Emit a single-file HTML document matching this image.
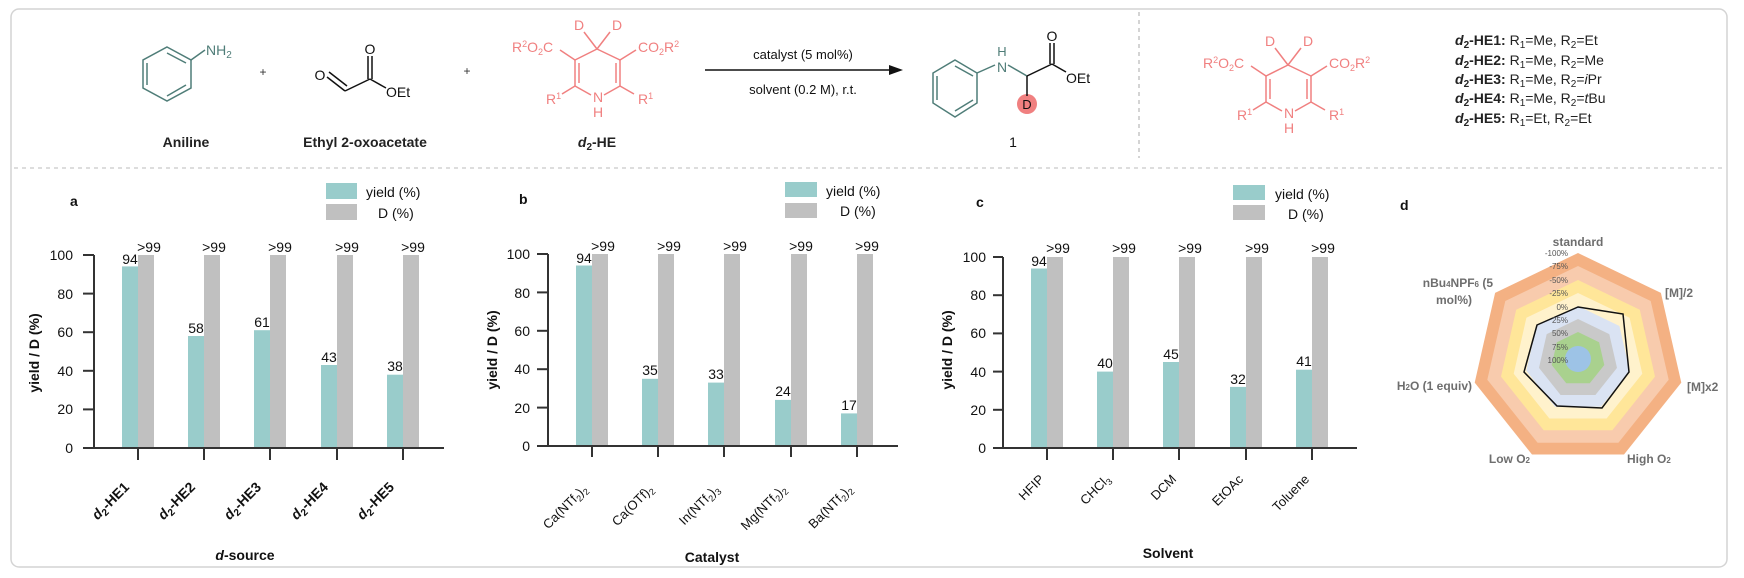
<!DOCTYPE html>
<html><head><meta charset="utf-8"><style>
html,body{margin:0;padding:0;background:#fff;}
svg{display:block;font-family:"Liberation Sans",Arial,sans-serif;}
</style></head><body>
<svg width="1744" height="578" viewBox="0 0 1744 578" xmlns="http://www.w3.org/2000/svg">
<rect x="11" y="9" width="1716" height="558" rx="8" fill="#fff" stroke="#d4d4d4" stroke-width="1.5"/>
<line x1="1139" y1="12" x2="1139" y2="158" stroke="#aaa" stroke-dasharray="4,4"/>
<line x1="14" y1="168" x2="1724" y2="168" stroke="#bbb" stroke-dasharray="4,4"/>

<!-- Aniline -->
<g stroke="#4f7d78" stroke-width="1.5" fill="none">
<polygon points="167,47 191,60 191,88 167,101 143,88 143,60"/>
<line x1="147" y1="63" x2="147" y2="85"/><line x1="167" y1="53" x2="186" y2="63"/><line x1="167" y1="96" x2="186" y2="85"/>
<line x1="191" y1="60" x2="205" y2="50"/>
</g>
<text x="206" y="55" font-size="14" fill="#4f7d78">NH<tspan font-size="10" dy="3">2</tspan></text>
<text x="263" y="76" font-size="12" fill="#333" text-anchor="middle">+</text>
<text x="186" y="147" font-size="14" font-weight="bold" text-anchor="middle" fill="#222">Aniline</text>
<!-- Ethyl oxoacetate -->
<g stroke="#111" stroke-width="1.5" fill="none">
<line x1="327" y1="77" x2="345" y2="91"/><line x1="329" y1="72" x2="347" y2="86"/>
<line x1="345" y1="91" x2="370" y2="79"/>
<line x1="368" y1="79" x2="368" y2="56"/><line x1="372" y1="79" x2="372" y2="56"/>
<line x1="370" y1="79" x2="386" y2="88"/>
</g>
<text x="320" y="80" font-size="14" text-anchor="middle" fill="#111">O</text>
<text x="370" y="54" font-size="14" text-anchor="middle" fill="#111">O</text>
<text x="386" y="97" font-size="14" fill="#111">OEt</text>
<text x="365" y="147" font-size="14" font-weight="bold" text-anchor="middle" fill="#222">Ethyl 2-oxoacetate</text>
<text x="467" y="75" font-size="12" fill="#333" text-anchor="middle">+</text>
<!-- HE -->
<g id="he">
<g stroke="#f08080" stroke-width="1.5" fill="none">
<line x1="597" y1="49" x2="575" y2="60"/><line x1="597" y1="49" x2="620" y2="60"/>
<line x1="575" y1="60" x2="575" y2="86"/><line x1="579" y1="63" x2="579" y2="83"/>
<line x1="620" y1="60" x2="620" y2="86"/><line x1="616" y1="63" x2="616" y2="83"/>
<line x1="575" y1="86" x2="591" y2="95"/><line x1="620" y1="86" x2="604" y2="95"/>
<line x1="575" y1="86" x2="562" y2="94"/><line x1="620" y1="86" x2="634" y2="94"/>
<line x1="575" y1="60" x2="560" y2="50"/><line x1="620" y1="60" x2="636" y2="50"/>
<line x1="597" y1="49" x2="584" y2="32"/><line x1="597" y1="49" x2="610" y2="32"/>
</g>
<g fill="#f08080" font-size="14">
<text x="579" y="30" text-anchor="middle">D</text><text x="617" y="30" text-anchor="middle">D</text>
<text x="512" y="52">R<tspan font-size="9" dy="-5">2</tspan><tspan dy="5">O</tspan><tspan font-size="9" dy="3">2</tspan><tspan dy="-3">C</tspan></text>
<text x="638" y="52">CO<tspan font-size="9" dy="3">2</tspan><tspan dy="-3">R</tspan><tspan font-size="9" dy="-5">2</tspan></text>
<text x="546" y="104">R<tspan font-size="9" dy="-5">1</tspan></text>
<text x="638" y="104">R<tspan font-size="9" dy="-5">1</tspan></text>
<text x="598" y="102" text-anchor="middle">N</text><text x="598" y="117" text-anchor="middle">H</text>
</g>
</g>
<text x="597" y="147" font-size="14" font-weight="bold" text-anchor="middle" fill="#222"><tspan font-style="italic">d</tspan><tspan font-size="10" dy="3">2</tspan><tspan dy="-3">-HE</tspan></text>
<!-- arrow -->
<line x1="705" y1="70" x2="893" y2="70" stroke="#111" stroke-width="1.6"/>
<polygon points="903,70 889,65 889,75" fill="#111"/>
<text x="803" y="59" font-size="13" text-anchor="middle" fill="#111">catalyst (5 mol%)</text>
<text x="803" y="94" font-size="13" text-anchor="middle" fill="#111">solvent (0.2 M), r.t.</text>
<!-- product -->
<g stroke="#4f7d78" stroke-width="1.5" fill="none">
<polygon points="955,60 977,73 977,103 955,117 933,103 933,73"/>
<line x1="937" y1="76" x2="937" y2="100"/><line x1="955" y1="66" x2="973" y2="76"/><line x1="955" y1="111" x2="973" y2="100"/>
<line x1="977" y1="73" x2="995" y2="65"/><line x1="1008" y1="65" x2="1027" y2="76"/>
</g>
<circle cx="1027" cy="104" r="10" fill="#f08080"/>
<g stroke="#111" stroke-width="1.5" fill="none">
<line x1="1027" y1="76" x2="1052" y2="64"/><line x1="1027" y1="76" x2="1027" y2="96"/>
<line x1="1050" y1="64" x2="1050" y2="43"/><line x1="1054" y1="64" x2="1054" y2="43"/>
<line x1="1052" y1="64" x2="1066" y2="72"/>
</g>
<text x="1002" y="72" font-size="14" text-anchor="middle" fill="#4f7d78">N</text>
<text x="1002" y="56" font-size="13" text-anchor="middle" fill="#4f7d78">H</text>
<text x="1027" y="109" font-size="13" text-anchor="middle" fill="#111">D</text>
<text x="1052" y="41" font-size="14" text-anchor="middle" fill="#111">O</text>
<text x="1066" y="83" font-size="14" fill="#111">OEt</text>
<text x="1013" y="147" font-size="14" text-anchor="middle" fill="#111">1</text>
<!-- right HE -->
<use href="#he" transform="translate(691,16)"/>
<g font-size="14" fill="#222">
<text x="1455" y="45"><tspan font-weight="bold"><tspan font-style="italic">d</tspan><tspan font-size="10" dy="3">2</tspan><tspan dy="-3">-HE1:</tspan></tspan> R<tspan font-size="10" dy="3">1</tspan><tspan dy="-3">=Me, R</tspan><tspan font-size="10" dy="3">2</tspan><tspan dy="-3">=Et</tspan></text>
<text x="1455" y="65"><tspan font-weight="bold"><tspan font-style="italic">d</tspan><tspan font-size="10" dy="3">2</tspan><tspan dy="-3">-HE2:</tspan></tspan> R<tspan font-size="10" dy="3">1</tspan><tspan dy="-3">=Me, R</tspan><tspan font-size="10" dy="3">2</tspan><tspan dy="-3">=Me</tspan></text>
<text x="1455" y="84"><tspan font-weight="bold"><tspan font-style="italic">d</tspan><tspan font-size="10" dy="3">2</tspan><tspan dy="-3">-HE3:</tspan></tspan> R<tspan font-size="10" dy="3">1</tspan><tspan dy="-3">=Me, R</tspan><tspan font-size="10" dy="3">2</tspan><tspan dy="-3">=</tspan><tspan font-style="italic">i</tspan>Pr</text>
<text x="1455" y="103"><tspan font-weight="bold"><tspan font-style="italic">d</tspan><tspan font-size="10" dy="3">2</tspan><tspan dy="-3">-HE4:</tspan></tspan> R<tspan font-size="10" dy="3">1</tspan><tspan dy="-3">=Me, R</tspan><tspan font-size="10" dy="3">2</tspan><tspan dy="-3">=</tspan><tspan font-style="italic">t</tspan>Bu</text>
<text x="1455" y="123"><tspan font-weight="bold"><tspan font-style="italic">d</tspan><tspan font-size="10" dy="3">2</tspan><tspan dy="-3">-HE5:</tspan></tspan> R<tspan font-size="10" dy="3">1</tspan><tspan dy="-3">=Et, R</tspan><tspan font-size="10" dy="3">2</tspan><tspan dy="-3">=Et</tspan></text>
</g>

<!-- ===== Chart a ===== -->
<g font-size="14" fill="#111">
<text x="70" y="206" font-weight="bold">a</text>
<rect x="326" y="183" width="31" height="16" fill="#99cccb"/><rect x="326" y="204" width="31" height="16" fill="#c0c0c0"/>
<text x="366" y="197">yield (%)</text><text x="378" y="218">D (%)</text>
<g text-anchor="end"><text x="73" y="260">100</text><text x="73" y="299">80</text><text x="73" y="337">60</text><text x="73" y="376">40</text><text x="73" y="414">20</text><text x="73" y="453">0</text></g>
<text transform="translate(39,353) rotate(-90)" text-anchor="middle" font-weight="bold">yield / D (%)</text>
<g fill="#99cccb"><rect x="122" y="266.4" width="16" height="181.6"/><rect x="188" y="336" width="16" height="112"/><rect x="254" y="330.2" width="16" height="117.8"/><rect x="321" y="365" width="16" height="83"/><rect x="387" y="374.7" width="16" height="73.3"/></g>
<g fill="#c0c0c0"><rect x="138" y="255" width="16" height="193"/><rect x="204" y="255" width="16" height="193"/><rect x="270" y="255" width="16" height="193"/><rect x="337" y="255" width="16" height="193"/><rect x="403" y="255" width="16" height="193"/></g>
<g text-anchor="middle"><text x="130" y="264">94</text><text x="196" y="333">58</text><text x="262" y="327">61</text><text x="329" y="362">43</text><text x="395" y="371">38</text>
<text x="149" y="252">&gt;99</text><text x="214" y="252">&gt;99</text><text x="280" y="252">&gt;99</text><text x="347" y="252">&gt;99</text><text x="413" y="252">&gt;99</text></g>
<g stroke="#333" stroke-width="2"><line x1="94" y1="255" x2="94" y2="448"/><line x1="83" y1="448" x2="444" y2="448"/>
<line x1="83" y1="255" x2="94" y2="255"/><line x1="83" y1="293.6" x2="94" y2="293.6"/><line x1="83" y1="332.2" x2="94" y2="332.2"/><line x1="83" y1="370.8" x2="94" y2="370.8"/><line x1="83" y1="409.4" x2="94" y2="409.4"/>
<line x1="138" y1="448" x2="138" y2="460"/><line x1="204" y1="448" x2="204" y2="460"/><line x1="270" y1="448" x2="270" y2="460"/><line x1="337" y1="448" x2="337" y2="460"/><line x1="403" y1="448" x2="403" y2="460"/></g>
<g font-weight="bold" text-anchor="end">
<text transform="translate(130,488) rotate(-45)"><tspan font-style="italic">d</tspan><tspan font-size="10" dy="3">2</tspan><tspan dy="-3">-HE1</tspan></text>
<text transform="translate(196,488) rotate(-45)"><tspan font-style="italic">d</tspan><tspan font-size="10" dy="3">2</tspan><tspan dy="-3">-HE2</tspan></text>
<text transform="translate(262,488) rotate(-45)"><tspan font-style="italic">d</tspan><tspan font-size="10" dy="3">2</tspan><tspan dy="-3">-HE3</tspan></text>
<text transform="translate(329,488) rotate(-45)"><tspan font-style="italic">d</tspan><tspan font-size="10" dy="3">2</tspan><tspan dy="-3">-HE4</tspan></text>
<text transform="translate(395,488) rotate(-45)"><tspan font-style="italic">d</tspan><tspan font-size="10" dy="3">2</tspan><tspan dy="-3">-HE5</tspan></text>
</g>
<text x="245" y="560" text-anchor="middle" font-weight="bold"><tspan font-style="italic">d</tspan>-source</text>
</g>

<!-- ===== Chart b ===== -->
<g font-size="14" fill="#111">
<text x="519" y="204" font-weight="bold">b</text>
<rect x="785" y="182" width="32" height="15" fill="#99cccb"/><rect x="785" y="203" width="32" height="15" fill="#c0c0c0"/>
<text x="826" y="196">yield (%)</text><text x="840" y="216">D (%)</text>
<g text-anchor="end"><text x="530" y="259">100</text><text x="530" y="298">80</text><text x="530" y="336">60</text><text x="530" y="374">40</text><text x="530" y="413">20</text><text x="530" y="451">0</text></g>
<text transform="translate(497,350) rotate(-90)" text-anchor="middle" font-weight="bold">yield / D (%)</text>
<g fill="#99cccb"><rect x="576" y="265.5" width="16" height="180.5"/><rect x="642" y="378.8" width="16" height="67.2"/><rect x="708" y="382.6" width="16" height="63.4"/><rect x="775" y="399.9" width="16" height="46.1"/><rect x="841" y="413.4" width="16" height="32.6"/></g>
<g fill="#c0c0c0"><rect x="592" y="254" width="16" height="192"/><rect x="658" y="254" width="16" height="192"/><rect x="724" y="254" width="16" height="192"/><rect x="791" y="254" width="16" height="192"/><rect x="857" y="254" width="16" height="192"/></g>
<g text-anchor="middle"><text x="584" y="263">94</text><text x="650" y="375">35</text><text x="716" y="379">33</text><text x="783" y="396">24</text><text x="849" y="410">17</text>
<text x="603" y="251">&gt;99</text><text x="669" y="251">&gt;99</text><text x="735" y="251">&gt;99</text><text x="801" y="251">&gt;99</text><text x="867" y="251">&gt;99</text></g>
<g stroke="#333" stroke-width="2"><line x1="548" y1="254" x2="548" y2="446"/><line x1="537" y1="446" x2="898" y2="446"/>
<line x1="537" y1="254" x2="548" y2="254"/><line x1="537" y1="292.4" x2="548" y2="292.4"/><line x1="537" y1="330.8" x2="548" y2="330.8"/><line x1="537" y1="369.2" x2="548" y2="369.2"/><line x1="537" y1="407.6" x2="548" y2="407.6"/>
<line x1="592" y1="446" x2="592" y2="457"/><line x1="658" y1="446" x2="658" y2="457"/><line x1="724" y1="446" x2="724" y2="457"/><line x1="791" y1="446" x2="791" y2="457"/><line x1="857" y1="446" x2="857" y2="457"/></g>
<g text-anchor="end" font-size="13">
<text transform="translate(588,490) rotate(-45)">Ca(NTf<tspan font-size="9" dy="3">2</tspan><tspan dy="-3">)</tspan><tspan font-size="9" dy="3">2</tspan></text>
<text transform="translate(654,490) rotate(-45)">Ca(OTf)<tspan font-size="9" dy="3">2</tspan></text>
<text transform="translate(720,490) rotate(-45)">In(NTf<tspan font-size="9" dy="3">2</tspan><tspan dy="-3">)</tspan><tspan font-size="9" dy="3">3</tspan></text>
<text transform="translate(787,490) rotate(-45)">Mg(NTf<tspan font-size="9" dy="3">2</tspan><tspan dy="-3">)</tspan><tspan font-size="9" dy="3">2</tspan></text>
<text transform="translate(853,490) rotate(-45)">Ba(NTf<tspan font-size="9" dy="3">2</tspan><tspan dy="-3">)</tspan><tspan font-size="9" dy="3">2</tspan></text>
</g>
<text x="712" y="562" text-anchor="middle" font-weight="bold">Catalyst</text>
</g>

<!-- ===== Chart c ===== -->
<g font-size="14" fill="#111">
<text x="976" y="207" font-weight="bold">c</text>
<rect x="1233" y="185" width="32" height="15" fill="#99cccb"/><rect x="1233" y="205" width="32" height="15" fill="#c0c0c0"/>
<text x="1275" y="199">yield (%)</text><text x="1288" y="219">D (%)</text>
<g text-anchor="end"><text x="986" y="262">100</text><text x="986" y="300">80</text><text x="986" y="338">60</text><text x="986" y="377">40</text><text x="986" y="415">20</text><text x="986" y="453">0</text></g>
<text transform="translate(952,350) rotate(-90)" text-anchor="middle" font-weight="bold">yield / D (%)</text>
<g fill="#99cccb"><rect x="1031" y="268.5" width="16" height="179.5"/><rect x="1097" y="371.6" width="16" height="76.4"/><rect x="1163" y="362" width="16" height="86"/><rect x="1230" y="386.9" width="16" height="61.1"/><rect x="1296" y="369.7" width="16" height="78.3"/></g>
<g fill="#c0c0c0"><rect x="1047" y="257" width="16" height="191"/><rect x="1113" y="257" width="16" height="191"/><rect x="1179" y="257" width="16" height="191"/><rect x="1246" y="257" width="16" height="191"/><rect x="1312" y="257" width="16" height="191"/></g>
<g text-anchor="middle"><text x="1039" y="266">94</text><text x="1105" y="368">40</text><text x="1171" y="359">45</text><text x="1238" y="384">32</text><text x="1304" y="366">41</text>
<text x="1058" y="253">&gt;99</text><text x="1124" y="253">&gt;99</text><text x="1190" y="253">&gt;99</text><text x="1257" y="253">&gt;99</text><text x="1323" y="253">&gt;99</text></g>
<g stroke="#333" stroke-width="2"><line x1="1003" y1="257" x2="1003" y2="448"/><line x1="993" y1="448" x2="1357" y2="448"/>
<line x1="993" y1="257" x2="1003" y2="257"/><line x1="993" y1="295.2" x2="1003" y2="295.2"/><line x1="993" y1="333.4" x2="1003" y2="333.4"/><line x1="993" y1="371.6" x2="1003" y2="371.6"/><line x1="993" y1="409.8" x2="1003" y2="409.8"/>
<line x1="1047" y1="448" x2="1047" y2="460"/><line x1="1113" y1="448" x2="1113" y2="460"/><line x1="1179" y1="448" x2="1179" y2="460"/><line x1="1246" y1="448" x2="1246" y2="460"/><line x1="1312" y1="448" x2="1312" y2="460"/></g>
<g text-anchor="end" font-size="13">
<text transform="translate(1045,480) rotate(-45)">HFIP</text>
<text transform="translate(1111,480) rotate(-45)">CHCl<tspan font-size="9" dy="3">3</tspan></text>
<text transform="translate(1177,480) rotate(-45)">DCM</text>
<text transform="translate(1244,480) rotate(-45)">EtOAc</text>
<text transform="translate(1310,480) rotate(-45)">Toluene</text>
</g>
<text x="1168" y="558" text-anchor="middle" font-weight="bold">Solvent</text>
</g>

<!-- ===== Radar d ===== -->
<text x="1400" y="210" font-size="14" font-weight="bold" fill="#111">d</text>
<g transform="translate(1578,359)">
<polygon points="0,-106 82.9,-66.1 103.3,23.6 46,95.5 -46,95.5 -103.3,23.6 -82.9,-66.1" fill="#f4b183"/>
<polygon points="0,-93 72.7,-58 90.7,20.7 40.4,83.8 -40.4,83.8 -90.7,20.7 -72.7,-58" fill="#f8cbad"/>
<polygon points="0,-79 61.8,-49.3 77,17.6 34.3,71.2 -34.3,71.2 -77,17.6 -61.8,-49.3" fill="#ffe699"/>
<polygon points="0,-66 51.6,-41.2 64.3,14.7 28.6,59.5 -28.6,59.5 -64.3,14.7 -51.6,-41.2" fill="#fff2cc"/>
<polygon points="0,-53 41.4,-33 51.7,11.8 23,47.8 -23,47.8 -51.7,11.8 -41.4,-33" fill="#dae3f3"/>
<polygon points="0,-40 31.3,-24.9 39,8.9 17.4,36 -17.4,36 -39,8.9 -31.3,-24.9" fill="#c9c9c9"/>
<polygon points="0,-27 21.1,-16.8 26.3,6 11.7,24.3 -11.7,24.3 -26.3,6 -21.1,-16.8" fill="#a9d18e"/>
<circle r="13" fill="#9dc3e6"/>
</g>
<polygon points="1578,307 1623,314 1629,372 1602,408 1557,406 1524,372 1537,325" fill="none" stroke="#111" stroke-width="1.5"/>
<g font-size="8" fill="#555" text-anchor="end">
<text x="1568" y="256">-100%</text><text x="1568" y="269">-75%</text><text x="1568" y="283">-50%</text><text x="1568" y="296">-25%</text><text x="1568" y="310">0%</text><text x="1568" y="323">25%</text><text x="1568" y="336">50%</text><text x="1568" y="350">75%</text><text x="1568" y="363">100%</text>
</g>
<g font-size="12" font-weight="bold" fill="#6e6e6e">
<text x="1578" y="246" text-anchor="middle">standard</text>
<text x="1665" y="297">[M]/2</text>
<text x="1687" y="391">[M]x2</text>
<text x="1627" y="463">High O<tspan font-size="8">2</tspan></text>
<text x="1530" y="463" text-anchor="end">Low O<tspan font-size="8">2</tspan></text>
<text x="1472" y="390" text-anchor="end">H<tspan font-size="8">2</tspan>O (1 equiv)</text>
<text x="1493" y="287" text-anchor="end">nBu<tspan font-size="8">4</tspan>NPF<tspan font-size="8">6</tspan> (5</text>
<text x="1472" y="304" text-anchor="end">mol%)</text>
</g>
</svg>
</body></html>
